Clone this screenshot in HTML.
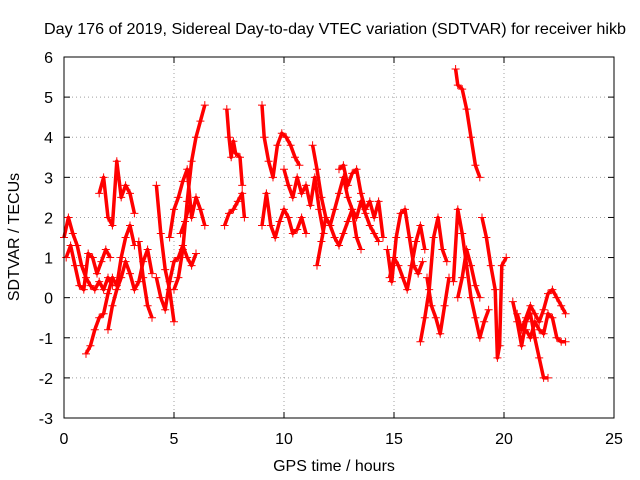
<!DOCTYPE html>
<html><head><meta charset="utf-8"><style>
html,body{margin:0;padding:0;background:#fff}
svg{display:block;font-family:"Liberation Sans",sans-serif}
</style></head><body>
<svg id="chart" width="640" height="480" viewBox="0 0 640 480">
<text x="335" y="34" font-size="16" text-anchor="middle" textLength="582" lengthAdjust="spacingAndGlyphs">Day 176 of 2019, Sidereal Day-to-day VTEC variation (SDTVAR) for receiver hikb</text>
<text x="334" y="471" font-size="16" text-anchor="middle">GPS time / hours</text>
<text x="19" y="237" font-size="16" text-anchor="middle" transform="rotate(-90 19 237)">SDTVAR / TECUs</text>
<g id="grid"></g><g id="ticks"></g><g id="series"></g>
<rect x="64" y="57" width="550" height="361" fill="none" stroke="#000"/>
</svg>
<script>
const xTicks=[0,5,10,15,20,25];
const yTicks=[-3,-2,-1,0,1,2,3,4,5,6];
const tracks=[
[[0,1.5],[0.2,2.0],[0.4,1.6],[0.6,1.3],[0.8,0.8],[1.0,0.5],[1.2,0.3],[1.4,0.2],[1.6,0.4],[1.8,0.2],[2.0,0.5],[2.2,0.3]],
[[0.1,1.0],[0.3,1.3],[0.5,0.8],[0.7,0.3],[0.9,0.2],[1.1,1.1],[1.3,1.0],[1.5,0.6],[1.7,0.9],[1.9,1.2],[2.1,1.0]],
[[1.0,-1.4],[1.2,-1.2],[1.4,-0.8],[1.6,-0.5],[1.8,-0.4],[2.0,0.1],[2.2,0.5],[2.4,0.3],[2.6,1.0],[2.8,1.5],[3.0,1.8],[3.2,1.3]],
[[1.6,2.6],[1.8,3.0],[2.0,2.0],[2.2,1.8],[2.4,3.4],[2.6,2.5],[2.8,2.8],[3.0,2.6],[3.2,2.1]],
[[2.0,-0.8],[2.2,-0.2],[2.4,0.2],[2.6,0.5],[2.8,0.9],[3.0,0.6],[3.2,0.2],[3.4,0.4],[3.6,0.9],[3.8,1.2],[4.0,0.6]],
[[3.4,1.4],[3.6,0.5],[3.8,-0.2],[4.0,-0.5]],
[[4.2,2.8],[4.4,1.6],[4.6,0.7],[4.8,0.2],[5.0,-0.6]],
[[4.2,0.5],[4.4,0.0],[4.6,-0.3],[4.8,0.4],[5.0,0.9],[5.2,1.0],[5.4,1.3],[5.6,1.0],[5.8,0.8],[6.0,1.1]],
[[5.0,0.2],[5.2,0.5],[5.4,1.2],[5.6,2.4],[5.8,3.4],[6.0,4.0],[6.2,4.4],[6.4,4.8]],
[[4.8,1.5],[5.0,2.2],[5.2,2.5],[5.4,2.9],[5.6,3.2],[5.8,2.0],[6.0,2.5],[6.2,2.2],[6.4,1.8]],
[[5.3,1.6],[5.5,1.9],[5.7,2.3]],
[[7.4,4.7],[7.5,4.0],[7.6,3.5],[7.7,3.9],[7.8,3.6],[8.0,3.5],[8.1,2.8]],
[[7.3,1.8],[7.5,2.1],[7.7,2.2],[7.9,2.4],[8.1,2.6],[8.2,2.0]],
[[9.0,4.8],[9.1,4.0],[9.3,3.4],[9.5,3.0],[9.7,3.8],[9.9,4.1],[10.1,4.0],[10.3,3.8],[10.5,3.5],[10.7,3.3]],
[[9.0,1.8],[9.2,2.6],[9.4,1.8],[9.6,1.5],[9.8,1.9],[10.0,2.2],[10.2,2.0],[10.4,1.6],[10.6,1.7],[10.8,2.0],[11.0,1.6]],
[[10.0,3.2],[10.2,2.8],[10.4,2.5],[10.6,3.0],[10.8,2.6],[11.0,2.8],[11.2,2.3],[11.4,3.0],[11.6,2.2],[11.8,1.6]],
[[11.3,3.8],[11.5,3.2],[11.7,2.5],[11.9,2.0],[12.1,1.8],[12.3,2.2],[12.5,2.6],[12.7,3.0],[12.9,2.5],[13.1,2.2],[13.3,1.5],[13.5,1.2]],
[[11.5,0.8],[11.7,1.4],[11.9,2.0],[12.1,1.8],[12.3,1.5],[12.5,1.3],[12.7,1.6],[12.9,1.9],[13.1,2.2],[13.3,2.0],[13.5,2.4],[13.7,2.1],[13.9,1.8],[14.1,1.6],[14.3,1.4]],
[[12.5,3.2],[12.7,3.3],[12.9,2.8],[13.1,3.1],[13.3,3.2],[13.5,2.6],[13.7,2.2],[13.9,2.4],[14.1,2.0],[14.3,2.4],[14.5,1.5]],
[[14.7,1.2],[14.9,0.4],[15.1,1.5],[15.3,2.1],[15.5,2.2],[15.7,1.5],[15.9,0.8],[16.1,0.6],[16.3,0.9]],
[[14.8,0.5],[15.0,1.0],[15.2,0.8],[15.4,0.5],[15.6,0.2],[15.8,0.8],[16.0,1.4],[16.2,1.8],[16.4,1.2]],
[[16.2,-1.1],[16.4,-0.5],[16.6,0.2],[16.8,1.5],[17.0,2.0],[17.2,1.2],[17.4,0.9]],
[[16.5,0.5],[16.7,-0.2],[16.9,-0.5],[17.1,-0.9],[17.3,-0.2],[17.5,0.5]],
[[17.8,5.7],[17.9,5.3],[18.1,5.2],[18.3,4.7],[18.5,4.0],[18.7,3.3],[18.9,3.0]],
[[17.7,0.4],[17.9,2.2],[18.1,1.6],[18.3,0.8],[18.5,0.0],[18.7,-0.5],[18.9,-1.0],[19.1,-0.6],[19.3,-0.3]],
[[17.9,0.0],[18.1,0.5],[18.3,1.2],[18.5,0.8],[18.7,0.3],[18.9,0.0]],
[[19.0,2.0],[19.2,1.5],[19.4,0.8],[19.6,0.2],[19.7,-1.5],[19.8,-1.2],[19.9,0.8],[20.1,1.0]],
[[20.4,-0.1],[20.6,-0.6],[20.8,-1.2],[21.0,-0.6],[21.2,-0.4],[21.4,-1.0],[21.6,-1.5],[21.8,-2.0],[22.0,-2.0]],
[[20.6,-0.4],[20.8,-0.8],[21.0,-0.5],[21.2,-0.2],[21.4,-0.4],[21.6,-0.6],[21.8,-0.3],[22.0,0.1],[22.2,0.2],[22.4,0.0],[22.6,-0.2],[22.8,-0.4]],
[[21.0,-0.8],[21.2,-1.0],[21.4,-0.6],[21.6,-0.8],[21.8,-0.9],[22.0,-0.4],[22.2,-0.5],[22.4,-1.0],[22.6,-1.1],[22.8,-1.1]]
];
const NS="http://www.w3.org/2000/svg";
const X0=64,X1=614,Y0=418,Y1=57;
const xs=v=>X0+(v-0)/(25-0)*(X1-X0);
const ys=v=>Y0-(v+3)/(6+3)*(Y0-Y1);
function mk(tag,attrs,parent){const e=document.createElementNS(NS,tag);for(const k in attrs)e.setAttribute(k,attrs[k]);parent.appendChild(e);return e;}
const grid=document.getElementById('grid'),ticks=document.getElementById('ticks'),ser=document.getElementById('series');
xTicks.forEach(t=>{
  const x=xs(t);
  if(t>0&&t<25){const g=mk('line',{x1:x,x2:x,y1:Y0,y2:Y1,stroke:'#a0a0a0','stroke-dasharray':'1,3'},grid);
    
    }
  mk('line',{x1:x,x2:x,y1:Y0,y2:Y0-6,stroke:'#000'},ticks);
  mk('line',{x1:x,x2:x,y1:Y1,y2:Y1+6,stroke:'#000'},ticks);
  const l=mk('text',{x:x,y:444,'font-size':16,'text-anchor':'middle'},ticks);l.textContent=t;
  
  
});
yTicks.forEach(t=>{
  const y=ys(t);
  if(t>-3&&t<6){const g=mk('line',{x1:X0,x2:X1,y1:y,y2:y,stroke:'#a0a0a0','stroke-dasharray':'1,3'},grid);
    
    }
  mk('line',{x1:X0,x2:X0+6,y1:y,y2:y,stroke:'#000'},ticks);
  mk('line',{x1:X1,x2:X1-6,y1:y,y2:y,stroke:'#000'},ticks);
  const l=mk('text',{x:53,y:y+6,'font-size':16,'text-anchor':'end'},ticks);l.textContent=t;
  
  
});
tracks.forEach((tr,i)=>{
  const g=mk('g',{},ser);
  
  
  mk('polyline',{points:tr.map(p=>xs(p[0])+','+ys(p[1])).join(' '),fill:'none',stroke:'#ff0000','stroke-width':3.5,'stroke-linejoin':'round'},g);
  tr.forEach(p=>{
    const x=xs(p[0]),y=ys(p[1]);
    mk('path',{d:`M${x-4},${y}H${x+4}M${x},${y-4}V${y+4}`,stroke:'#ff0000','stroke-width':1},g);
  });
});
</script>
</body></html>
